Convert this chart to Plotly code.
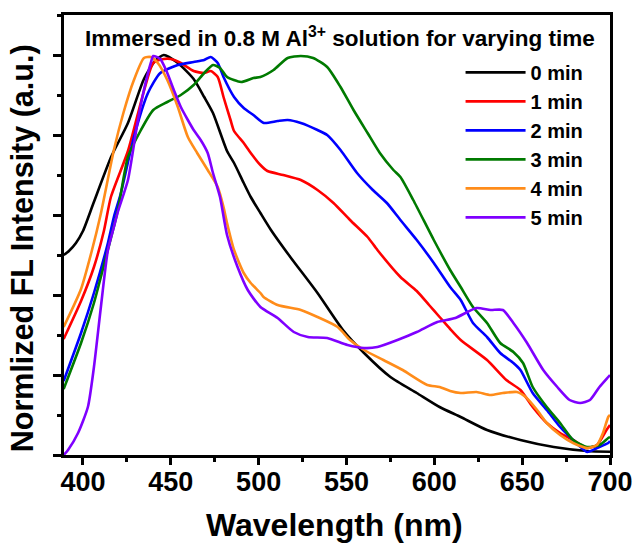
import plotly.graph_objects as go

# ---- data ----
wl_0 = [389, 392, 396, 400, 406, 416, 425.6, 434.7, 441, 446, 454, 463, 469, 474, 482, 486, 491.5, 495.5, 501, 507, 518, 533.5, 548, 560, 575, 590, 603, 615, 630, 649, 668, 687, 700]
i_0 = [0.50, 0.51, 0.53, 0.56, 0.63, 0.745, 0.83, 0.94, 0.985, 1.0, 0.98, 0.94, 0.895, 0.855, 0.76, 0.73, 0.68, 0.645, 0.605, 0.5625, 0.495, 0.405, 0.3125, 0.255, 0.195, 0.155, 0.12, 0.095, 0.0625, 0.0375, 0.02, 0.01, 0.008]

wl_1 = [389, 398.9, 406.25, 411.9, 415.9, 425.6, 434.7, 440, 446, 450, 455.7, 463, 469, 472.7, 476.7, 480, 484, 486, 491.5, 495.5, 501, 505, 514, 524, 533.5, 542.6, 552, 562, 567.6, 580.7, 590, 597, 603, 609, 615, 630, 641, 649, 656, 664, 671.6, 679, 687, 692.6, 698, 700]
i_1 = [0.29, 0.385, 0.47, 0.56, 0.645, 0.76, 0.91, 0.98, 0.99, 0.99, 0.98, 0.96, 0.955, 0.96, 0.945, 0.895, 0.8375, 0.81, 0.78, 0.755, 0.725, 0.71, 0.70, 0.6875, 0.6625, 0.63, 0.5875, 0.545, 0.5125, 0.445, 0.41, 0.375, 0.345, 0.315, 0.2875, 0.2375, 0.1875, 0.1625, 0.12, 0.08, 0.055, 0.0375, 0.0175, 0.025, 0.0625, 0.075]

wl_2 = [389, 398.9, 406.25, 414.2, 417.6, 421.6, 429, 437, 444, 454, 463, 469, 472.7, 476.7, 480, 486, 491.5, 497, 503, 510.8, 516.5, 524, 533.5, 539, 546.6, 556, 565, 573, 580.7, 590, 599.7, 609, 615, 622, 630, 637.5, 645, 649, 656, 664, 671.6, 679, 687, 692.6, 699, 700]
i_2 = [0.185, 0.305, 0.405, 0.53, 0.595, 0.655, 0.795, 0.905, 0.955, 0.975, 0.9825, 0.9875, 0.995, 0.98, 0.945, 0.895, 0.8675, 0.85, 0.83, 0.835, 0.8375, 0.83, 0.8125, 0.80, 0.7625, 0.705, 0.6625, 0.63, 0.5875, 0.5375, 0.48, 0.42, 0.3875, 0.33, 0.295, 0.255, 0.23, 0.2125, 0.155, 0.1125, 0.07, 0.0375, 0.0075, 0.0175, 0.03, 0.035]

wl_3 = [389, 398.9, 406.25, 414, 419.9, 425.6, 433, 440, 448, 455.7, 463, 469, 474, 478, 482, 490, 497, 501, 508.5, 516.5, 524, 531, 539, 546.6, 554, 562, 569, 576.7, 580.7, 588, 599.7, 609, 615, 622, 630, 637.5, 645, 650.5, 656, 664, 671.6, 679, 687, 694, 699, 700]
i_3 = [0.165, 0.28, 0.38, 0.51, 0.6125, 0.745, 0.8125, 0.8625, 0.8825, 0.90, 0.925, 0.955, 0.975, 0.9675, 0.945, 0.9325, 0.9425, 0.945, 0.9625, 0.9925, 0.9975, 0.9925, 0.97, 0.92, 0.8625, 0.805, 0.755, 0.7125, 0.695, 0.6375, 0.5375, 0.4625, 0.42, 0.37, 0.33, 0.28, 0.2575, 0.23, 0.17, 0.12, 0.08, 0.0375, 0.02, 0.025, 0.0425, 0.045]

wl_4 = [389, 398.9, 405, 410, 417.6, 423, 429, 434.7, 438.6, 442.6, 448, 454, 459.7, 465, 471, 476.7, 480, 482, 486, 491.5, 495.5, 501, 502.8, 510.8, 524, 533.5, 545, 552, 560, 571, 582, 596, 603, 609, 615, 624, 632, 639, 647, 652, 658.5, 664, 671.6, 679, 687, 692.6, 696, 699, 700]
i_4 = [0.32, 0.415, 0.51, 0.60, 0.7625, 0.855, 0.9375, 0.9925, 0.995, 0.98, 0.9375, 0.87, 0.795, 0.755, 0.7125, 0.67, 0.62, 0.58, 0.5125, 0.455, 0.43, 0.405, 0.395, 0.375, 0.3625, 0.345, 0.32, 0.2875, 0.2625, 0.2375, 0.2125, 0.175, 0.17, 0.16, 0.155, 0.1575, 0.15, 0.155, 0.1575, 0.145, 0.1125, 0.08, 0.05, 0.03, 0.0175, 0.025, 0.055, 0.095, 0.10]

wl_5 = [389, 391.5, 397.2, 402.8, 406.25, 410, 414.2, 417.6, 420, 425.6, 431, 434.7, 438.6, 440, 444, 448, 451.7, 455.7, 459.7, 463, 467, 471, 474, 478, 482, 488, 493.8, 501, 510.8, 520, 528, 539, 550.6, 560, 567.6, 579, 590, 601.7, 612, 624, 632, 639, 645, 652.8, 662, 670, 677, 683, 688.6, 694, 699, 700]
i_5 = [0.0, 0.0125, 0.055, 0.12, 0.22, 0.3625, 0.5125, 0.57, 0.61, 0.6875, 0.83, 0.9125, 0.98, 0.9975, 0.99, 0.955, 0.9125, 0.87, 0.8375, 0.8125, 0.7875, 0.755, 0.705, 0.645, 0.55, 0.47, 0.4125, 0.37, 0.3425, 0.3075, 0.295, 0.2925, 0.275, 0.2675, 0.27, 0.2875, 0.3075, 0.3325, 0.3425, 0.3675, 0.3625, 0.3625, 0.33, 0.28, 0.2125, 0.17, 0.1375, 0.13, 0.1375, 0.17, 0.195, 0.20]

series_names = ["0 min", "1 min", "2 min", "3 min", "4 min", "5 min"]
series_x = [wl_0, wl_1, wl_2, wl_3, wl_4, wl_5]
series_y = [i_0, i_1, i_2, i_3, i_4, i_5]
series_colors = ["#000000", "#FF0000", "#0000FF", "#007A00", "#FF8C1A", "#7F00FF"]

x_ticks = [400, 450, 500, 550, 600, 650, 700]

FONT = "Liberation Sans, Arial, sans-serif"

fig = go.Figure()
for name, xs, ys, col in zip(series_names, series_x, series_y, series_colors):
    fig.add_trace(go.Scatter(x=xs, y=ys, name=name, mode="lines",
                             line=dict(color=col, width=2.6, shape="spline", smoothing=0.6)))

fig.update_layout(
    width=637, height=551,
    margin=dict(l=64, r=27, t=15, b=96, autoexpand=False),
    paper_bgcolor="white", plot_bgcolor="white",
    font=dict(family=FONT, color="black"),
    showlegend=True,
    legend=dict(x=0.7263, y=0.914, xanchor="left", yanchor="top",
                bgcolor="rgba(0,0,0,0)", borderwidth=0,
                font=dict(family=FONT, size=20, color="black", weight="bold"),
                itemwidth=60, tracegroupgap=0),
)

fig.update_xaxes(range=[389.2, 700], tickmode="array", tickvals=x_ticks,
                 ticktext=[str(v) for v in x_ticks],
                 ticks="outside", ticklen=7, tickwidth=2.5, tickcolor="black",
                 minor=dict(dtick=25, tick0=400, ticks="outside", ticklen=4, tickwidth=2.5, tickcolor="black"),
                 showline=True, linewidth=2.8, linecolor="black", mirror=True,
                 showgrid=False, zeroline=False, ticklabelstandoff=-6,
                 tickfont=dict(family=FONT, size=27, color="black", weight="bold"))
fig.update_yaxes(range=[0, 1.1], dtick=0.2, tick0=0, showticklabels=False,
                 ticks="outside", ticklen=8, tickwidth=2.5, tickcolor="black",
                 minor=dict(dtick=0.1, tick0=0, ticks="outside", ticklen=4, tickwidth=2.5, tickcolor="black"),
                 showline=True, linewidth=2.8, linecolor="black", mirror=True,
                 showgrid=False, zeroline=False)

fig.add_annotation(text="Immersed in 0.8 M Al<sup>3+</sup> solution for varying time",
                   xref="paper", yref="paper", x=0.5064, y=0.95, showarrow=False,
                   xanchor="center", yanchor="middle",
                   font=dict(family=FONT, size=22.5, color="black", weight="bold"))
fig.add_annotation(text="Wavelength (nm)", xref="paper", yref="paper",
                   x=0.4954, y=-0.158, showarrow=False, xanchor="center", yanchor="middle",
                   font=dict(family=FONT, size=32, color="black", weight="bold"))
fig.add_annotation(text="Normlized FL Intensity (a.u.)", xref="paper", yref="paper",
                   x=-0.0768, y=0.470, showarrow=False, textangle=-90,
                   xanchor="center", yanchor="middle",
                   font=dict(family=FONT, size=30.5, color="black", weight="bold"))

fig.write_html("out.html")
